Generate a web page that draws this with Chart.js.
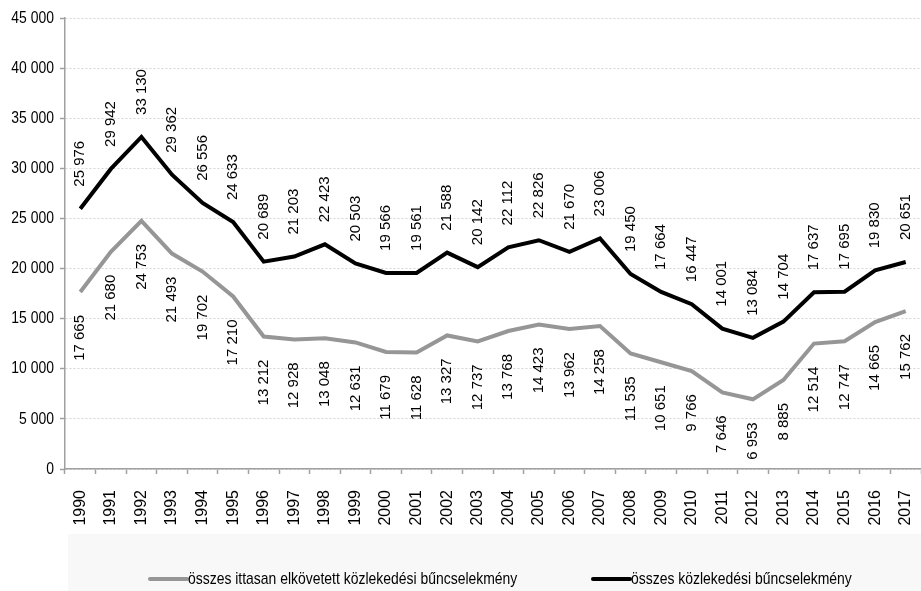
<!DOCTYPE html>
<html>
<head>
<meta charset="utf-8">
<script src="https://cdn.jsdelivr.net/npm/chart.js@4/dist/chart.umd.min.js"></script>
<style>
  body { margin: 0; background: #fff; }
  #wrap { width: 921px; height: 591px; }
</style>
</head>
<body>
<div id="wrap"><canvas id="lineChart" width="921" height="591"></canvas></div>
<script>
var years = ["1990","1991","1992","1993","1994","1995","1996","1997","1998","1999","2000","2001","2002","2003","2004","2005","2006","2007","2008","2009","2010","2011","2012","2013","2014","2015","2016","2017"];
var drunkCrimes = [17665, 21680, 24753, 21493, 19702, 17210, 13212, 12928, 13048, 12631, 11679, 11628, 13327, 12737, 13768, 14423, 13962, 14258, 11535, 10651, 9766, 7646, 6953, 8885, 12514, 12747, 14665, 15762];
var allCrimes = [25976, 29942, 33130, 29362, 26556, 24633, 20689, 21203, 22423, 20503, 19566, 19561, 21588, 20142, 22112, 22826, 21670, 23006, 19450, 17664, 16447, 14001, 13084, 14704, 17637, 17695, 19830, 20651];
var seriesNames = ["összes ittasan elkövetett közlekedési bűncselekmény", "összes közlekedési bűncselekmény"];

var plainFont = '"Liberation Sans", Arial, sans-serif';
var squeeze = 0.82; // horizontal text looks condensed in the original

// thousands with a space, like "33 130"
function fmt(v) {
  return String(v).replace(/\B(?=(\d{3})+(?!\d))/g, ' ');
}

// draw condensed text (no narrow font installed)
function narrowText(ctx, text, x, y, align) {
  ctx.save();
  ctx.translate(x, y);
  ctx.scale(squeeze, 1);
  ctx.textAlign = align;
  ctx.fillText(text, 0, 0);
  ctx.restore();
}

// rotated value labels: black above the line, gray below it
var valueLabels = {
  id: 'valueLabels',
  afterDatasetsDraw: function(chart) {
    var ctx = chart.ctx;
    chart.data.datasets.forEach(function(ds, i) {
      var meta = chart.getDatasetMeta(i);
      meta.data.forEach(function(pt, j) {
        ctx.save();
        ctx.font = '15px ' + plainFont;
        ctx.fillStyle = '#000';
        ctx.textBaseline = 'middle';
        if (i === 1) {
          ctx.translate(pt.x, pt.y - 22);
          ctx.rotate(-Math.PI / 2);
          ctx.textAlign = 'left';
        } else {
          ctx.translate(pt.x, pt.y + 23);
          ctx.rotate(-Math.PI / 2);
          ctx.textAlign = 'right';
        }
        ctx.fillText(fmt(ds.data[j]), 0, 0);
        ctx.restore();
      });
    });
  }
};

// y tick labels, condensed
var yLabels = {
  id: 'yLabels',
  afterDraw: function(chart) {
    var ctx = chart.ctx;
    var y = chart.scales.y;
    ctx.save();
    ctx.font = '17px ' + plainFont;
    ctx.fillStyle = '#000';
    ctx.textBaseline = 'middle';
    y.ticks.forEach(function(t) {
      narrowText(ctx, fmt(t.value), y.right - 11, y.getPixelForValue(t.value), 'right');
    });
    ctx.restore();
  }
};

// gray band with the legend at the bottom
var bottomLegend = {
  id: 'bottomLegend',
  beforeDraw: function(chart) {
    var ctx = chart.ctx;
    ctx.save();
    ctx.fillStyle = '#f8f8f8';
    ctx.fillRect(68, 534, chart.width - 68, chart.height - 534);
    ctx.restore();
  },
  afterDraw: function(chart) {
    var ctx = chart.ctx;
    var items = [[150, '#969696'], [593, '#000000']];
    ctx.save();
    ctx.font = '17px ' + plainFont;
    ctx.textBaseline = 'middle';
    items.forEach(function(it, i) {
      ctx.strokeStyle = it[1];
      ctx.lineWidth = 4;
      ctx.lineCap = 'round';
      ctx.beginPath();
      ctx.moveTo(it[0], 579);
      ctx.lineTo(it[0] + 37, 579);
      ctx.stroke();
      ctx.fillStyle = '#000';
      narrowText(ctx, seriesNames[i], it[0] + 38, 579, 'left');
    });
    ctx.restore();
  }
};

var ctx = document.getElementById('lineChart').getContext('2d');
var myChart = new Chart(ctx, {
  type: 'line',
  data: {
    labels: years,
    datasets: [{
      label: seriesNames[0],
      data: drunkCrimes,
      borderColor: '#969696',
      borderWidth: 4,
      pointRadius: 0,
      tension: 0
    }, {
      label: seriesNames[1],
      data: allCrimes,
      borderColor: '#000000',
      borderWidth: 4,
      pointRadius: 0,
      tension: 0
    }]
  },
  options: {
    responsive: false,
    animation: false,
    layout: { padding: { top: 18, right: -3, left: 0, bottom: 0 } },
    plugins: {
      legend: { display: false },
      tooltip: { enabled: false }
    },
    scales: {
      x: {
        offset: true,
        afterFit: function(scale) {
          scale.height = 122;
          scale.paddingLeft = 0;
          scale.paddingRight = 0;
        },
        grid: {
          offset: true,
          drawOnChartArea: false,
          tickLength: 5,
          tickColor: '#a0a0a0',
          tickWidth: 1.5
        },
        border: { color: '#a0a0a0', width: 1.5 },
        ticks: {
          autoSkip: false,
          maxRotation: 90,
          minRotation: 90,
          padding: 16,
          color: '#000',
          font: { family: plainFont, size: 16 }
        }
      },
      y: {
        min: 0,
        max: 45000,
        afterFit: function(scale) {
          scale.width = 65;
          scale.paddingTop = 0;
          scale.paddingBottom = 0;
        },
        grid: {
          color: '#d4d4d4',
          tickColor: '#a0a0a0',
          tickLength: 5,
          tickWidth: 1.5
        },
        border: { color: '#a0a0a0', width: 1.5, dash: [2, 2] },
        ticks: {
          stepSize: 5000,
          display: false
        }
      }
    }
  },
  plugins: [valueLabels, yLabels, bottomLegend]
});
</script>
</body>
</html>
